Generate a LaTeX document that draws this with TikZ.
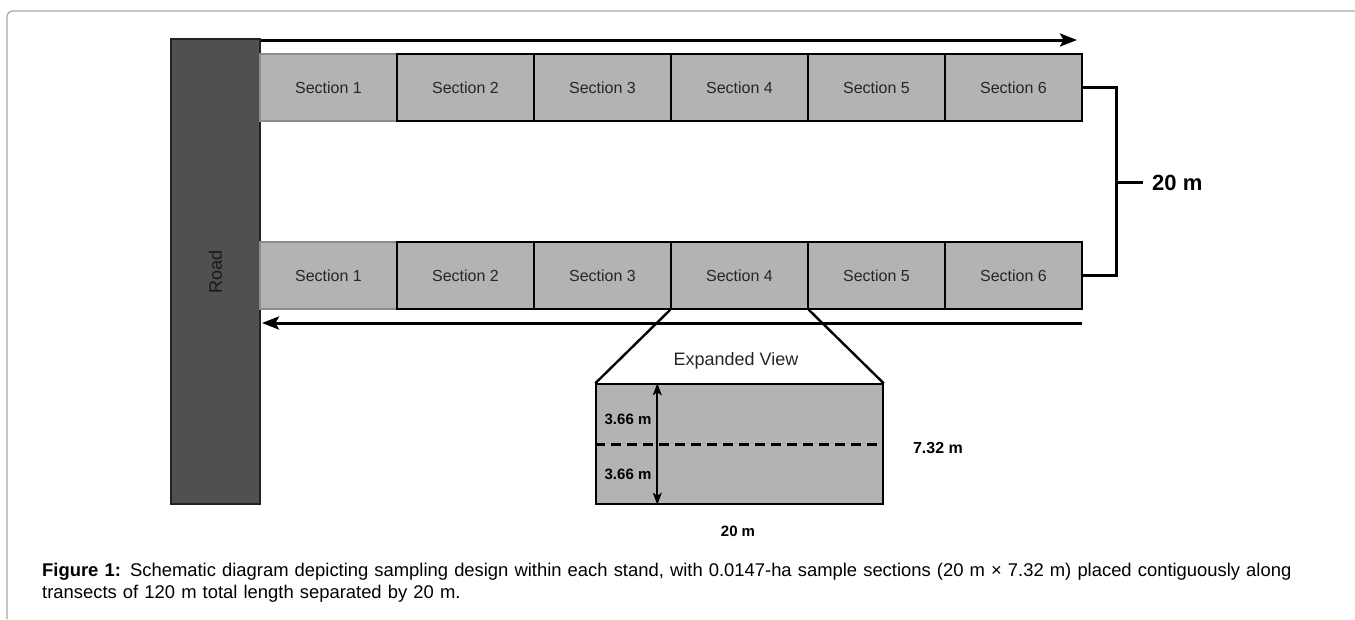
\documentclass[tikz,border=0pt]{standalone}
\usepackage{fontspec}
\setmainfont{Liberation Sans}
\usetikzlibrary{arrows.meta}
\definecolor{secgray}{HTML}{B3B3B3}
\definecolor{roadgray}{HTML}{4F504F}
\definecolor{roadedge}{HTML}{222222}
\definecolor{framegray}{HTML}{A8A8A8}
\begin{document}
\begin{tikzpicture}[x=1pt,y=-1pt,
  section/.style={draw=black, line width=1.4pt, fill=secgray, minimum width=137pt,
    minimum height=67pt, inner sep=0pt, font=\fontsize{16}{18}\selectfont, text=black!85},
  firstsec/.style={section, draw=black!45},
  heavy/.style={line width=3pt},
  tip/.style={-{Stealth[length=17pt,width=13pt,inset=3.5pt]}},
  dim/.style={font=\bfseries\fontsize{15}{17}\selectfont}]
\useasboundingbox (0,0) rectangle (1355,619);
% page frame
\draw[framegray, line width=1.2pt, rounded corners=6pt] (7,619) -- (7,11) -- (1355,11);
% road
\node[draw=roadedge, line width=1.8pt, fill=roadgray, minimum width=89pt, minimum height=465pt,
  inner sep=0pt] (road) at (215.5,271.5) {};
\node[rotate=90, text=black!90, font=\fontsize{18}{20}\selectfont] (roadlbl) at (215.5,272) {Road};
% transect rows
\foreach \i in {1,...,6} {
  \pgfmathsetmacro{\cx}{260+137*(\i-0.5)}
  \ifnum\i=1
    \node[firstsec] (t\i) at (\cx,87.5) {Section \i};
    \node[firstsec] (b\i) at (\cx,275.5) {Section \i};
  \else
    \node[section] (t\i) at (\cx,87.5) {Section \i};
    \node[section] (b\i) at (\cx,275.5) {Section \i};
  \fi
}
% direction of travel
\coordinate (topend) at (1077,40);
\coordinate (topstart) at (road.north east |- topend);
\draw[heavy, tip] (topstart) -- (topend);
\coordinate (botstart) at (1082,323);
\coordinate (botend) at (262,323);
\draw[heavy, tip] (botstart) -- (botend);
% 20 m spacing bracket
\coordinate (brtop) at (1116,87.5);
\coordinate (brbot) at (1116,275.5);
\coordinate (brmid) at (1116,182);
\coordinate (brtick) at (1143,182);
\draw[line width=3pt] (t6.east) -- (brtop) -- (brbot) -- (b6.east);
\draw[line width=3pt] (brmid) -- (brtick);
\node[anchor=west, font=\bfseries\fontsize{22}{24}\selectfont, inner sep=0pt] (sp) at (1152,183) {20 m};
% expanded view of one section
\node[draw=black, line width=1.4pt, fill=secgray, minimum width=287pt, minimum height=120pt,
  inner sep=0pt] (exp) at (739.5,444) {};
\draw[line width=2.4pt] (b4.south west) -- (exp.north west);
\draw[line width=2.4pt] (b4.south east) -- (exp.north east);
\node[font=\fontsize{18}{20}\selectfont, text=black!85] (explbl) at (736,361) {Expanded View};
\draw[line width=3pt, dash pattern=on 10pt off 6pt] (exp.west) -- (exp.east);
\coordinate (dtop) at ([xshift=62pt]exp.north west);
\coordinate (dbot) at ([xshift=62pt]exp.south west);
\draw[line width=1.8pt, {Stealth[length=12pt,width=9pt,inset=3pt]}-{Stealth[length=12pt,width=9pt,inset=3pt]}] (dtop) -- (dbot);
\node[dim] (h1) at (628,419) {3.66 m};
\node[dim] (h2) at (628,474) {3.66 m};
\node[dim, font=\bfseries\fontsize{16}{18}\selectfont] (hh) at (938,448) {7.32 m};
\node[dim] (ww) at (738,531) {20 m};
% caption
\node[anchor=north west, inner sep=0pt, text width=1290pt, font=\fontsize{18.4}{22}\selectfont]
  (cap) at (42,563) {\textbf{Figure 1:} Schematic diagram depicting sampling design within each stand, with 0.0147-ha sample sections (20 m × 7.32 m) placed contiguously along transects of 120 m total length separated by 20 m.};
\end{tikzpicture}
\end{document}
